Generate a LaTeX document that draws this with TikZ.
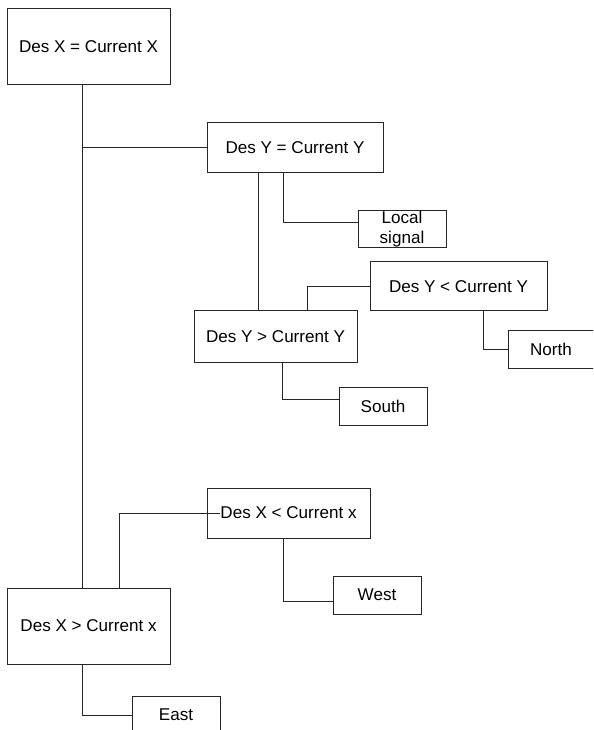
\documentclass[tikz,border=0pt]{standalone}
\usepackage{fontspec}
\setmainfont{Liberation Sans}
\begin{document}
\begin{tikzpicture}[x=0.75pt,y=-0.75pt,
  box/.style={draw=black!85, line width=0.75pt, inner sep=0pt, align=center,
    font=\fontsize{12.8}{15}\selectfont},
  link/.style={draw=black!85, line width=0.75pt}]
\useasboundingbox (0,0) rectangle (593,730);
\clip (0,0) rectangle (593,730);
% boxes
\node[box, minimum width=122.25pt, minimum height=57pt] (b1) at (88.5,47) {Des X = Current X};
\node[box, minimum width=132pt, minimum height=37.5pt] (b2) at (295,148) {Des Y = Current Y};
\node[box, minimum width=66pt, minimum height=27.75pt] (loc) at (402,229.5) {Local\\signal};
\node[box, minimum width=132.75pt, minimum height=36.75pt] (b4) at (458.5,286.5) {Des Y < Current Y};
\node[box, minimum width=64.5pt, minimum height=28.5pt] (north) at (551,349) {North};
\node[box, minimum width=122.25pt, minimum height=38.25pt] (b6) at (275.5,336.5) {Des Y > Current Y};
\node[box, minimum width=66pt, minimum height=28.5pt] (south) at (383,406) {South};
\node[box, minimum width=122.25pt, minimum height=37.5pt] (b8) at (288.5,513) {Des X < Current x};
\node[box, minimum width=66pt, minimum height=28.5pt] (west) at (377,595) {West};
\node[box, minimum width=122.25pt, minimum height=57pt] (b10) at (88.5,626) {Des X > Current x};
\node[box, minimum width=66pt, minimum height=28.5pt] (east) at (176,715) {East};
% helper coordinates
\coordinate (cv) at (82,0);
\coordinate (c26) at (258,0);
\coordinate (c2l) at (283,223);
\coordinate (c64) at (307,286.5);
\coordinate (c4n) at (483,349);
\coordinate (c6s) at (282,399);
\coordinate (c108) at (119,513);
\coordinate (c8in) at (220,513);
\coordinate (c8w) at (283,601);
\coordinate (c10e) at (82,715);
% connectors
\draw[link] (b1.south -| cv) -- (b10.north -| cv);
\draw[link] (b2.west -| cv) -- (b2.west);
\draw[link] (b2.south -| c26) -- (b6.north -| c26);
\draw[link] (b2.south -| c2l) -- (c2l) -- (c2l -| loc.west);
\draw[link] (b6.north -| c64) -- (c64) -- (b4.west);
\draw[link] (b4.south -| c4n) -- (c4n) -- (north.west);
\draw[link] (b6.south -| c6s) -- (c6s) -- (c6s -| south.west);
\draw[link] (b10.north -| c108) -- (c108) -- (c8in);
\draw[link] (b8.south -| c8w) -- (c8w) -- (c8w -| west.west);
\draw[link] (b10.south -| c10e) -- (c10e) -- (east.west);
\end{tikzpicture}
\end{document}
